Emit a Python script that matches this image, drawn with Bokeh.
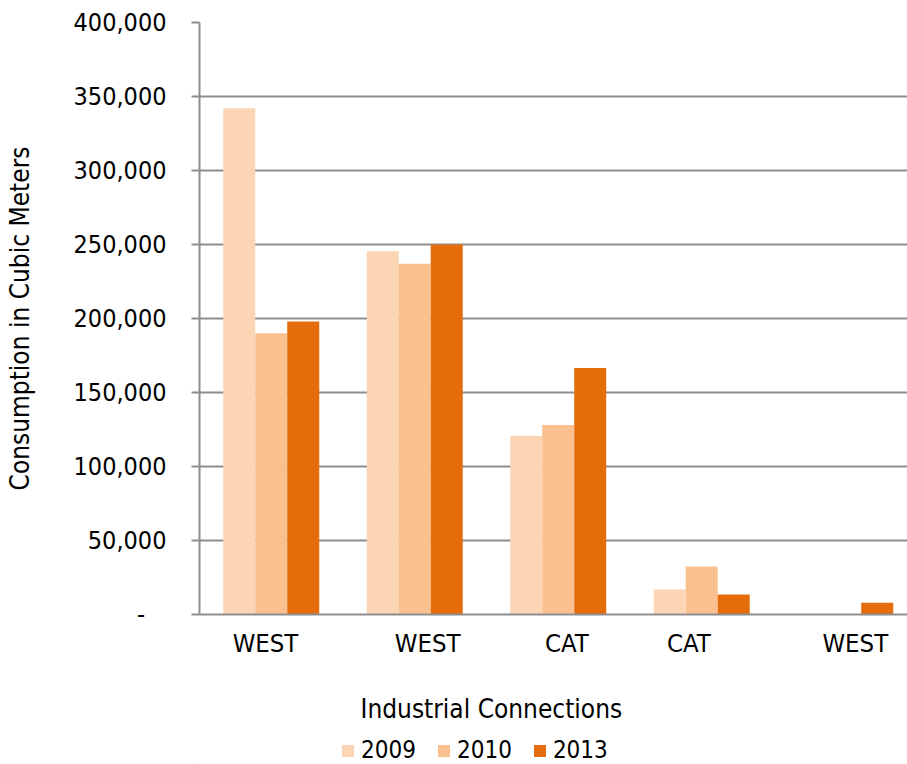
from bokeh.plotting import figure
from bokeh.layouts import column
from bokeh.models import Range1d, FixedTicker, NumeralTickFormatter, Legend, LegendItem, Label
from bokeh.embed import file_html
from bokeh.resources import INLINE

# Industrial connections and yearly consumption (cubic meters)
connections = ["WEST", "WEST", "CAT", "CAT", "WEST"]
years = ["2009", "2010", "2013"]
consumption_2009 = [342000, 245500, 120700, 16900, 0]
consumption_2010 = [190000, 237000, 128000, 32400, 0]
consumption_2013 = [198000, 250000, 166600, 13500, 8000]
y_ticks = [0, 50000, 100000, 150000, 200000, 250000, 300000, 350000, 400000]

colors = ["#FCD5B5", "#FAC090", "#E46C0A"]
series = [consumption_2009, consumption_2010, consumption_2013]

FONT = "DejaVu Sans Condensed"
BAR_W = 0.223
GREY = "#8E8E8E"

p = figure(width=907, height=660, output_backend="svg", toolbar_location=None,
           x_range=Range1d(0, 4.934), y_range=Range1d(0, 400000),
           min_border_left=199, min_border_right=0, min_border_top=22,
           min_border_bottom=45)
p.outline_line_color = None
p.background_fill_color = "white"
p.border_fill_color = "white"

centers = [i + 0.5 for i in range(len(connections))]
offsets = [-BAR_W, 0.0, BAR_W]
for vals, col, off in zip(series, colors, offsets):
    p.vbar(x=[c + off for c in centers], top=vals, width=BAR_W,
           fill_color=col, line_color=None)

# category labels sit a little off the group centres
label_nudge = [-0.04, 0.09, 0.06, -0.09, 0.07]
label_pos = [c + n for c, n in zip(centers, label_nudge)]
p.xaxis.ticker = FixedTicker(ticks=label_pos)
p.xaxis.major_label_overrides = {pos: name for pos, name in zip(label_pos, connections)}
p.xaxis.major_tick_line_color = None
p.xaxis.minor_tick_line_color = None
p.xaxis.axis_line_color = GREY
p.xaxis.axis_line_width = 2
p.xaxis.major_label_standoff = 7
p.xaxis.major_label_text_font = FONT
p.xaxis.major_label_text_font_size = "25.5px"
p.xaxis.major_label_text_color = "black"

p.yaxis.ticker = FixedTicker(ticks=y_ticks)
p.yaxis.formatter = NumeralTickFormatter(format="0,0")
p.yaxis.major_label_overrides = {0: "-\u2007\u00a0"}
p.yaxis.major_tick_in = 0
p.yaxis.major_tick_out = 8
p.yaxis.major_tick_line_color = GREY
p.yaxis.major_tick_line_width = 2
p.yaxis.minor_tick_line_color = None
p.yaxis.axis_line_color = GREY
p.yaxis.axis_line_width = 2
p.yaxis.major_label_standoff = 25
p.yaxis.major_label_text_font = FONT
p.yaxis.major_label_text_font_size = "25px"
p.yaxis.major_label_text_color = "black"
p.yaxis.axis_label = "Consumption in Cubic Meters"
p.yaxis.axis_label_text_font = FONT
p.yaxis.axis_label_text_font_size = "26px"
p.yaxis.axis_label_text_font_style = "normal"
p.yaxis.axis_label_text_color = "black"
p.yaxis.axis_label_standoff = 36

p.xgrid.grid_line_color = None
p.ygrid.ticker = FixedTicker(ticks=y_ticks)
p.ygrid.grid_line_color = GREY
p.ygrid.grid_line_width = 2

# strip under the chart: x-axis title and legend
leg = figure(width=907, height=104, output_backend="svg", toolbar_location=None,
             x_range=Range1d(0, 708), y_range=Range1d(0, 104),
             min_border_left=199, min_border_right=0,
             min_border_top=0, min_border_bottom=0)
leg.axis.visible = False
leg.grid.visible = False
leg.outline_line_color = None
leg.border_fill_color = "white"
leg.background_fill_color = "white"

leg.add_layout(Label(x=161, y=56, text="Industrial Connections",
                     text_align="left", text_baseline="middle",
                     text_font=FONT, text_font_size="26px", text_color="black"))

items = []
for yr, col in zip(years, colors):
    # swatch source kept outside the visible range
    r = leg.vbar(x=[-100], top=[1], width=1, fill_color=col, line_color=None)
    items.append(LegendItem(label=yr, renderers=[r]))
legend = Legend(items=items, orientation="horizontal", location=(141, 0),
                glyph_width=15, glyph_height=15, label_standoff=6, spacing=20,
                padding=0, margin=0, border_line_color=None,
                background_fill_alpha=0, label_height=20,
                label_text_font=FONT, label_text_font_size="24px",
                label_text_color="black")
leg.add_layout(legend)

open("out.html", "w").write(file_html(column(p, leg, spacing=0), INLINE))
